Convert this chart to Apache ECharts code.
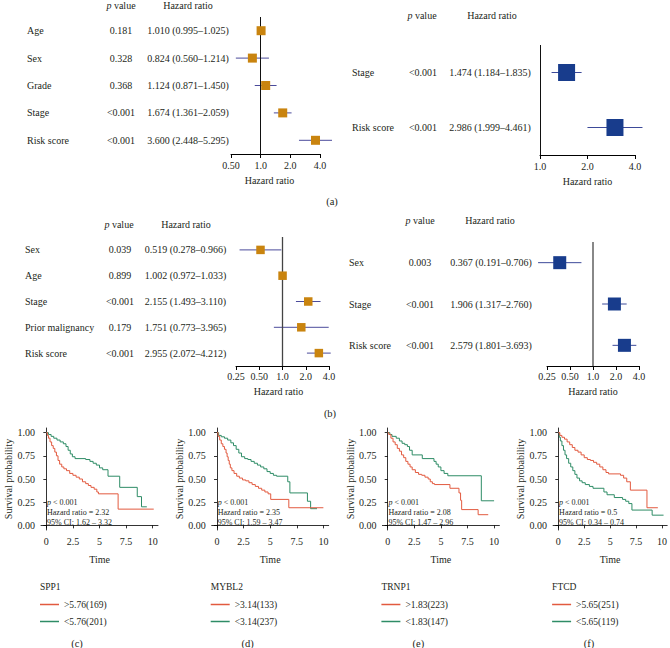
<!DOCTYPE html>
<html><head><meta charset="utf-8">
<script src="https://cdn.jsdelivr.net/npm/echarts@6/dist/echarts.min.js"></script>
<style>html,body{margin:0;padding:0;background:#fff}#c{width:670px;height:648px}</style>
</head><body><div id="c"></div>
<script>
const FONT = '"Liberation Serif", "DejaVu Serif", serif';
const TXT = '#231f20';
const ORANGE = '#C9840F';
const NAVY = '#183C8C';
const RED = '#E25A3F';
const GREEN = '#2E8C66';

// ---- (a) left: univariate ----
const a1Vars = ['Age', 'Sex', 'Grade', 'Stage', 'Risk score'];
const a1P = ['0.181', '0.328', '0.368', '<0.001', '<0.001'];
const a1HR = [1.010, 0.824, 1.124, 1.674, 3.600];
const a1Low = [0.995, 0.560, 0.871, 1.361, 2.448];
const a1High = [1.025, 1.214, 1.450, 2.059, 5.295];
// ---- (a) right: multivariate ----
const a2Vars = ['Stage', 'Risk score'];
const a2P = ['<0.001', '<0.001'];
const a2HR = [1.474, 2.986];
const a2Low = [1.184, 1.999];
const a2High = [1.835, 4.461];
// ---- (b) left ----
const b1Vars = ['Sex', 'Age', 'Stage', 'Prior malignancy', 'Risk score'];
const b1P = ['0.039', '0.899', '<0.001', '0.179', '<0.001'];
const b1HR = [0.519, 1.002, 2.155, 1.751, 2.955];
const b1Low = [0.278, 0.972, 1.493, 0.773, 2.072];
const b1High = [0.966, 1.033, 3.110, 3.965, 4.212];
// ---- (b) right ----
const b2Vars = ['Sex', 'Stage', 'Risk score'];
const b2P = ['0.003', '<0.001', '<0.001'];
const b2HR = [0.367, 1.906, 2.579];
const b2Low = [0.191, 1.317, 1.801];
const b2High = [0.706, 2.760, 3.693];

// ---- KM panels ----
const kmGenes = ['SPP1', 'MYBL2', 'TRNP1', 'FTCD'];
const kmHighLabels = ['>5.76(169)', '>3.14(133)', '>1.83(223)', '>5.65(251)'];
const kmLowLabels = ['<5.76(201)', '<3.14(237)', '<1.83(147)', '<5.65(119)'];
const kmPText = ['< 0.001', '< 0.001', '< 0.001', '< 0.001'];
const kmHRText = ['2.32', '2.35', '2.08', '0.5'];
const kmCIText = ['1.62 – 3.32', '1.59 – 3.47', '1.47 – 2.96', '0.34 – 0.74'];
const kmXTicks = [0, 2.5, 5, 7.5, 10];
const kmYTicks = [0, 0.25, 0.5, 0.75, 1];

const kmSPP1High = [[0,1],[0.1,0.97],[0.2,0.94],[0.35,0.9],[0.5,0.86],[0.65,0.83],[0.8,0.79],[0.95,0.75],[1.1,0.7],[1.25,0.66],[1.45,0.63],[1.65,0.61],[1.9,0.59],[2.2,0.56],[2.5,0.54],[2.8,0.52],[3.1,0.5],[3.4,0.47],[3.7,0.45],[3.95,0.43],[4.2,0.41],[4.5,0.39],[4.75,0.36],[4.9,0.34],[6.75,0.175],[10.1,0.175]];
const kmSPP1Low = [[0,1],[0.2,0.98],[0.45,0.96],[0.7,0.94],[1.0,0.92],[1.3,0.9],[1.6,0.88],[1.85,0.85],[2.05,0.81],[2.25,0.77],[2.45,0.74],[2.7,0.72],[3.7,0.71],[4.1,0.69],[4.4,0.67],[4.7,0.65],[5.0,0.62],[5.3,0.6],[5.8,0.53],[6.9,0.41],[8.55,0.31],[8.95,0.2],[9.45,0.2]];
const kmMYBL2High = [[0,1],[0.1,0.96],[0.25,0.92],[0.4,0.88],[0.55,0.85],[0.7,0.82],[0.85,0.78],[0.95,0.74],[1.05,0.7],[1.15,0.66],[1.25,0.62],[1.4,0.59],[1.6,0.56],[1.85,0.53],[2.1,0.51],[2.4,0.49],[2.7,0.48],[3.0,0.46],[3.3,0.44],[3.6,0.42],[3.9,0.4],[4.2,0.38],[4.5,0.36],[4.8,0.34],[5.05,0.28],[6.75,0.19],[10,0.19]];
const kmMYBL2Low = [[0,1],[0.15,0.97],[0.4,0.955],[0.7,0.94],[1.0,0.92],[1.3,0.89],[1.55,0.86],[1.8,0.82],[2.05,0.78],[2.3,0.74],[2.6,0.72],[2.9,0.71],[3.2,0.69],[3.5,0.67],[3.8,0.65],[4.1,0.63],[4.4,0.61],[4.7,0.58],[5.0,0.56],[5.3,0.54],[5.6,0.53],[6.65,0.47],[6.85,0.35],[8.5,0.26],[8.8,0.18],[9.4,0.18]];
const kmTRNP1High = [[0,1],[0.1,0.98],[0.3,0.94],[0.5,0.9],[0.7,0.87],[0.9,0.83],[1.1,0.8],[1.3,0.76],[1.5,0.73],[1.7,0.69],[1.9,0.66],[2.1,0.63],[2.3,0.6],[2.6,0.57],[2.9,0.55],[3.2,0.54],[3.5,0.52],[3.8,0.5],[4.0,0.47],[4.2,0.45],[4.4,0.44],[5.85,0.4],[6.7,0.35],[6.85,0.27],[6.95,0.17],[8.5,0.115],[9.45,0.115]];
const kmTRNP1Low = [[0,1],[0.2,0.98],[0.4,0.96],[0.8,0.94],[1.1,0.91],[1.35,0.885],[1.6,0.87],[1.85,0.85],[2.05,0.81],[2.3,0.76],[3.25,0.72],[4.35,0.69],[4.55,0.66],[4.75,0.63],[5.0,0.59],[5.3,0.56],[5.65,0.535],[8.8,0.265],[10,0.265]];
const kmFTCDHigh = [[0,1],[0.15,0.97],[0.35,0.95],[0.6,0.93],[0.85,0.9],[1.1,0.87],[1.35,0.84],[1.6,0.81],[1.9,0.79],[2.2,0.76],[2.5,0.73],[2.8,0.71],[3.1,0.7],[3.4,0.68],[3.7,0.66],[4.0,0.63],[4.3,0.6],[4.6,0.57],[4.85,0.555],[6.0,0.54],[6.3,0.51],[6.6,0.47],[6.95,0.38],[8.55,0.19],[9.6,0.19]];
const kmFTCDLow = [[0,1],[0.1,0.95],[0.2,0.91],[0.35,0.86],[0.5,0.81],[0.65,0.76],[0.8,0.72],[1.0,0.67],[1.2,0.63],[1.4,0.59],[1.6,0.55],[1.8,0.51],[2.05,0.48],[2.3,0.46],[2.6,0.44],[3.0,0.42],[3.35,0.4],[4.4,0.36],[4.7,0.33],[5.4,0.3],[6.2,0.28],[6.5,0.26],[6.8,0.235],[7.1,0.165],[9.05,0.11],[10.15,0.11]];

const kmHigh = [kmSPP1High, kmMYBL2High, kmTRNP1High, kmFTCDHigh];
const kmLow = [kmSPP1Low, kmMYBL2Low, kmTRNP1Low, kmFTCDLow];

const grids = [], xAxes = [], yAxes = [], series = [], graphics = [], legends = [];

function txt(x, y, text, size, align) {
  graphics.push({ type: 'text', x: x, y: y, silent: true, style: {
    text: text, fill: TXT, fontFamily: FONT, fontSize: size,
    align: align || 'center', verticalAlign: 'middle',
    rich: { i: { fontStyle: 'italic', fontFamily: FONT, fontSize: size, fill: TXT, color: TXT } }
  }});
}

function addForest(f, L) {
  const gi = grids.length;
  grids.push({ left: L.left, top: L.top, width: L.width, height: L.height });
  const hrText = f.hr.map((v, i) => v.toFixed(3) + ' (' + f.low[i].toFixed(3) + '–' + f.high[i].toFixed(3) + ')');
  const tok = { fontFamily: FONT, fontSize: 10, color: TXT };
  xAxes.push({
    gridIndex: gi, type: 'log', logBase: 2, min: L.min, max: 4,
    name: 'Hazard ratio', nameLocation: 'middle', nameGap: L.nameGap,
    nameTextStyle: { fontFamily: FONT, fontSize: 10, color: TXT, padding: L.namePad || 0 },
    axisLine: { show: true, lineStyle: { color: '#000', width: 1 } },
    axisTick: { show: true, length: 4, lineStyle: { color: '#000', width: 1 } },
    minorTick: { show: false },
    splitLine: { show: false },
    axisLabel: { margin: L.labelMargin, fontFamily: FONT, fontSize: 10, color: TXT,
      formatter: v => v < 1 ? v.toFixed(2) : v.toFixed(1) }
  });
  yAxes.push({
    gridIndex: gi, type: 'category', inverse: true, data: f.vars,
    axisLine: { show: false }, axisTick: { show: false }, splitLine: { show: false },
    axisLabel: {
      interval: 0, margin: L.margin,
      formatter: (v, i) => '{n|' + v + '}{p|' + f.p[i] + '}{h|' + hrText[i] + '}',
      rich: {
        n: Object.assign({ width: L.wn, align: 'left' }, tok),
        p: Object.assign({ width: L.wp, align: 'center' }, tok),
        h: Object.assign({ width: L.wh, align: 'center' }, tok)
      }
    }
  });
  // confidence interval segments
  f.vars.forEach((v, i) => {
    series.push({
      type: 'line', xAxisIndex: gi, yAxisIndex: gi, z: 2, silent: true, animation: false,
      symbol: 'none', showSymbol: false, clip: false,
      lineStyle: { color: L.ci, width: 1 },
      data: [[f.low[i], i], [f.high[i], i]]
    });
  });
  // point estimates
  series.push({
    type: 'scatter', xAxisIndex: gi, yAxisIndex: gi, z: 10, silent: true, animation: false,
    symbol: 'rect', symbolSize: L.box, itemStyle: { color: L.boxColor, opacity: 1 }, clip: false,
    data: f.hr.map((v, i) => [v, i]),
    markLine: {
      silent: true, animation: false, symbol: ['none', 'none'], label: { show: false },
      lineStyle: { color: L.refColor, width: L.refWidth, type: 'solid' },
      emphasis: { disabled: true },
      data: [{ xAxis: 1 }]
    }
  });
}

addForest({ vars: a1Vars, p: a1P, hr: a1HR, low: a1Low, high: a1High },
  { left: 231, top: 17, width: 89, height: 137, min: 0.5, wn: 70, wp: 48, wh: 86, margin: 0,
    box: 9, boxColor: ORANGE, ci: '#4B4B9B', refColor: '#111', refWidth: 1, nameGap: 21, namePad: [0, 12, 0, 0], labelMargin: 6 });
addForest({ vars: a2Vars, p: a2P, hr: a2HR, low: a2Low, high: a2High },
  { left: 540, top: 45, width: 95, height: 110, min: 1, wn: 48, wp: 46, wh: 88, margin: 6,
    box: 17, boxColor: NAVY, ci: '#3D4A99', refColor: '#111', refWidth: 1, nameGap: 21, labelMargin: 6 });
addForest({ vars: b1Vars, p: b1P, hr: b1HR, low: b1Low, high: b1High },
  { left: 236, top: 237, width: 93, height: 129, min: 0.25, wn: 71, wp: 48, wh: 83, margin: 9,
    box: 8.5, boxColor: ORANGE, ci: '#4B4B9B', refColor: '#444', refWidth: 1.3, nameGap: 20, namePad: [0, 8, 0, 0], labelMargin: 5 });
addForest({ vars: b2Vars, p: b2P, hr: b2HR, low: b2Low, high: b2High },
  { left: 547, top: 242, width: 92, height: 124, min: 0.25, wn: 47, wp: 48, wh: 94, margin: 9,
    box: 13, boxColor: NAVY, ci: '#3D4A99', refColor: '#888', refWidth: 2, nameGap: 20, labelMargin: 5 });

// forest headers
[[121, 5, 188], [422, 15, 492], [119, 224, 186], [420, 220, 490]].forEach(h => {
  txt(h[0], h[1], '{i|p} value', 10);
  txt(h[2], h[1], 'Hazard ratio', 10);
});
txt(332, 201, '(a)', 10.5);
txt(330, 413, '(b)', 10.5);

// KM panels
const kmStep = 170.7;
kmGenes.forEach((g, i) => {
  const gi = grids.length;
  const left = 41 + i * kmStep;
  grids.push({ left: left, top: 428, width: 117, height: 102 });
  xAxes.push({
    gridIndex: gi, type: 'value', min: -0.5, max: 10.5,
    name: 'Time', nameLocation: 'middle', nameGap: 24,
    nameTextStyle: { fontFamily: FONT, fontSize: 10, color: TXT },
    axisLine: { show: true, lineStyle: { color: '#000', width: 0.8 } },
    axisTick: { show: true, length: 3, customValues: kmXTicks, lineStyle: { color: '#000', width: 0.8 } },
    axisLabel: { customValues: kmXTicks, margin: 6, fontFamily: FONT, fontSize: 10, color: TXT, formatter: v => String(v) },
    splitLine: { show: false }
  });
  yAxes.push({
    gridIndex: gi, type: 'value', min: -0.05, max: 1.05,
    name: 'Survival probability', nameLocation: 'middle', nameGap: 26,
    nameTextStyle: { fontFamily: FONT, fontSize: 10, color: TXT },
    axisLine: { show: true, lineStyle: { color: '#000', width: 0.8 } },
    axisTick: { show: true, length: 3, customValues: kmYTicks, lineStyle: { color: '#000', width: 0.8 } },
    axisLabel: { customValues: kmYTicks, margin: 6, fontFamily: FONT, fontSize: 10, color: TXT, formatter: v => v.toFixed(2) },
    splitLine: { show: false }
  });
  series.push({
    type: 'line', name: kmHighLabels[i], xAxisIndex: gi, yAxisIndex: gi, data: kmHigh[i], step: 'end',
    symbol: 'none', showSymbol: false, silent: true, animation: false,
    lineStyle: { color: RED, width: 1 }, itemStyle: { color: RED }, z: 4
  });
  series.push({
    type: 'line', name: kmLowLabels[i], xAxisIndex: gi, yAxisIndex: gi, data: kmLow[i], step: 'end',
    symbol: 'none', showSymbol: false, silent: true, animation: false,
    lineStyle: { color: GREEN, width: 1 }, itemStyle: { color: GREEN }, z: 3
  });
  legends.push({
    left: 40 + i * kmStep, top: 599.5, padding: 0, orient: 'vertical', icon: 'rect', itemWidth: 19, itemHeight: 1.5,
    itemGap: 7, selectedMode: false, data: [kmHighLabels[i], kmLowLabels[i]],
    textStyle: { fontFamily: FONT, fontSize: 9.5, color: TXT }
  });
  txt(left + 6, 502, '{i|p} ' + kmPText[i], 8, 'left');
  txt(left + 6, 512, 'Hazard ratio = ' + kmHRText[i], 8, 'left');
  txt(left + 6, 522, '95% CI: ' + kmCIText[i], 8, 'left');
  txt(40 + i * kmStep, 587, g, 9.5, 'left');
  txt(77 + i * kmStep, 643, '(' + 'cdef'[i] + ')', 10.5);
});

const chart = echarts.init(document.getElementById('c'), null, { renderer: 'svg', width: 670, height: 648 });
chart.setOption({
  animation: false,
  backgroundColor: '#fff',
  textStyle: { fontFamily: FONT },
  grid: grids, xAxis: xAxes, yAxis: yAxes, series: series,
  legend: legends,
  graphic: { elements: graphics }
});
</script></body></html>
